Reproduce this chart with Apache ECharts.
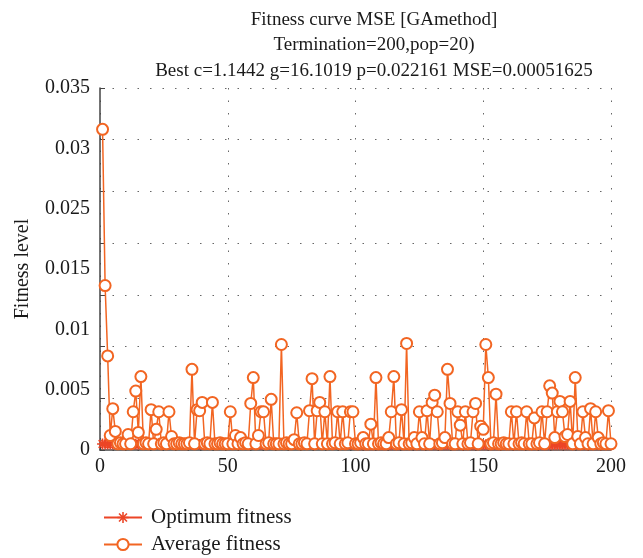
<!DOCTYPE html>
<html>
<head>
<meta charset="utf-8">
<script src="https://cdn.jsdelivr.net/npm/echarts@6/dist/echarts.min.js"></script>
<style>
html,body{margin:0;padding:0;background:#fff;}
#chart{width:643px;height:558px;}
</style>
</head>
<body>
<div id="chart"></div>
<script>
// ---- data ----
const titleLines = [
  'Fitness curve MSE [GAmethod]',
  'Termination=200,pop=20)',
  'Best c=1.1442 g=16.1019 p=0.022161 MSE=0.00051625'
];
const seriesNames = ['Optimum fitness', 'Average fitness'];
const yAxisName = 'Fitness level';
const yTickLabels = ['0', '0.005', '0.01', '0.015', '0.025', '0.03', '0.035'];
const xTicks = [0, 50, 100, 150, 200];

const avgFitness = [
  0.031, 0.0159, 0.0091, 0.0014, 0.0040, 0.0018, 0.0006, 0.0007, 0.0006, 0.0006,
  0.0015, 0.0006, 0.0037, 0.0057, 0.0017, 0.0071, 0.0006, 0.0007, 0.0006, 0.0039,
  0.0006, 0.0020, 0.0037, 0.0006, 0.0007, 0.0006, 0.0037, 0.0013, 0.0006, 0.0006,
  0.0007, 0.0006, 0.0006, 0.0006, 0.0007, 0.0078, 0.0006, 0.0039, 0.0038, 0.0046,
  0.0006, 0.0007, 0.0006, 0.0046, 0.0006, 0.0006, 0.0007, 0.0006, 0.0006, 0.0006,
  0.0037, 0.0006, 0.0014, 0.0006, 0.0012, 0.0006, 0.0007, 0.0006, 0.0045, 0.0070,
  0.0006, 0.0014, 0.0037, 0.0037, 0.0006, 0.0007, 0.0049, 0.0006, 0.0006, 0.0006,
  0.0102, 0.0006, 0.0007, 0.0006, 0.0006, 0.0010, 0.0036, 0.0006, 0.0006, 0.0007,
  0.0006, 0.0038, 0.0069, 0.0006, 0.0038, 0.0046, 0.0006, 0.0037, 0.0006, 0.0071,
  0.0006, 0.0007, 0.0037, 0.0006, 0.0037, 0.0006, 0.0007, 0.0037, 0.0037, 0.0006,
  0.0006, 0.0007, 0.0012, 0.0006, 0.0006, 0.0025, 0.0006, 0.0070, 0.0006, 0.0007,
  0.0006, 0.0006, 0.0012, 0.0037, 0.0071, 0.0006, 0.0007, 0.0039, 0.0006, 0.0103,
  0.0006, 0.0007, 0.0012, 0.0006, 0.0037, 0.0012, 0.0006, 0.0038, 0.0006, 0.0046,
  0.0053, 0.0037, 0.0006, 0.0007, 0.0012, 0.0078, 0.0045, 0.0006, 0.0006, 0.0037,
  0.0024, 0.0006, 0.0037, 0.0006, 0.0007, 0.0037, 0.0045, 0.0006, 0.0023, 0.0020,
  0.0102, 0.0070, 0.0006, 0.0007, 0.0054, 0.0006, 0.0006, 0.0007, 0.0006, 0.0006,
  0.0037, 0.0006, 0.0037, 0.0006, 0.0007, 0.0006, 0.0037, 0.0006, 0.0006, 0.0031,
  0.0006, 0.0007, 0.0037, 0.0006, 0.0037, 0.0062, 0.0055, 0.0012, 0.0037, 0.0047,
  0.0037, 0.0013, 0.0015, 0.0047, 0.0006, 0.0070, 0.0013, 0.0006, 0.0037, 0.0012,
  0.0006, 0.0040, 0.0006, 0.0037, 0.0012, 0.0006, 0.0007, 0.0006, 0.0038, 0.0006
];

const optFitness = [
  0.00058, 0.00058, 0.00058, 0.00058, 0.00058, 0.00057, 0.00057, 0.00057, 0.00057, 0.00057,
  0.00055, 0.00055, 0.00055, 0.00055, 0.00055, 0.00055, 0.00055, 0.00055, 0.00055, 0.00055,
  0.00055, 0.00055, 0.00055, 0.00055, 0.00055, 0.00054, 0.00054, 0.00054, 0.00054, 0.00054,
  0.00054, 0.00054, 0.00054, 0.00054, 0.00054, 0.00054, 0.00054, 0.00054, 0.00054, 0.00054,
  0.00053, 0.00053, 0.00053, 0.00053, 0.00053, 0.00053, 0.00053, 0.00053, 0.00053, 0.00053,
  0.00053, 0.00053, 0.00053, 0.00053, 0.00053, 0.00053, 0.00053, 0.00053, 0.00053, 0.00053,
  0.00053, 0.00053, 0.00053, 0.00053, 0.00053, 0.00053, 0.00053, 0.00053, 0.00053, 0.00053,
  0.00052, 0.00052, 0.00052, 0.00052, 0.00052, 0.00052, 0.00052, 0.00052, 0.00052, 0.00052,
  0.00052, 0.00052, 0.00052, 0.00052, 0.00052, 0.00052, 0.00052, 0.00052, 0.00052, 0.00052,
  0.00052, 0.00052, 0.00052, 0.00052, 0.00052, 0.00052, 0.00052, 0.00052, 0.00052, 0.00052,
  0.000516, 0.000516, 0.000516, 0.000516, 0.000516, 0.000516, 0.000516, 0.000516, 0.000516, 0.000516,
  0.000516, 0.000516, 0.000516, 0.000516, 0.000516, 0.000516, 0.000516, 0.000516, 0.000516, 0.000516,
  0.000516, 0.000516, 0.000516, 0.000516, 0.000516, 0.000516, 0.000516, 0.000516, 0.000516, 0.000516,
  0.000516, 0.000516, 0.000516, 0.000516, 0.000516, 0.000516, 0.000516, 0.000516, 0.000516, 0.000516,
  0.000516, 0.000516, 0.000516, 0.000516, 0.000516, 0.000516, 0.000516, 0.000516, 0.000516, 0.000516,
  0.000516, 0.000516, 0.000516, 0.000516, 0.000516, 0.000516, 0.000516, 0.000516, 0.000516, 0.000516,
  0.000516, 0.000516, 0.000516, 0.000516, 0.000516, 0.000516, 0.000516, 0.000516, 0.000516, 0.000516,
  0.000516, 0.000516, 0.000516, 0.000516, 0.000516, 0.000516, 0.000516, 0.000516, 0.000516, 0.000516,
  0.000516, 0.000516, 0.000516, 0.000516, 0.000516, 0.000516, 0.000516, 0.000516, 0.000516, 0.000516,
  0.000516, 0.000516, 0.000516, 0.000516, 0.000516, 0.000516, 0.000516, 0.000516, 0.000516, 0.000516
];

// ---- chart ----
const FONT = '"Liberation Serif", "DejaVu Serif", serif';
const TXT = '#1a1a1a';
const OPT_COLOR = '#EC4526';
const AVG_COLOR = '#F26522';
const asterisk = 'path://M-1.4,-10L1.4,-10L1.4,10L-1.4,10Z M-10,-1.4L10,-1.4L10,1.4L-10,1.4Z M-6.1,-8.1L8.1,6.1L6.1,8.1L-8.1,-6.1Z M6.1,-8.1L8.1,-6.1L-6.1,8.1L-8.1,6.1Z';

const gens = avgFitness.map((_, i) => i + 1);
const optData = gens.map((g, i) => [g, optFitness[i]]);
const avgData = gens.map((g, i) => [g, avgFitness[i]]);

const gridLine = { show: true, lineStyle: { color: '#666', type: [1.5, 11], width: 1 } };

const chart = echarts.init(document.getElementById('chart'), null, { renderer: 'canvas' });
chart.setOption({
  animation: false,
  backgroundColor: '#fff',
  title: {
    text: titleLines.join('\n'),
    left: 369,
    top: 2,
    textAlign: 'center',
    textStyle: { fontFamily: FONT, fontSize: 19, fontWeight: 'normal', color: TXT, lineHeight: 25.5 }
  },
  grid: { left: 100, right: 32, top: 88, bottom: 108, containLabel: false },
  legend: {
    orient: 'vertical',
    left: 98,
    top: 502,
    height: 56,
    itemGap: 6,
    itemWidth: 38,
    itemHeight: 14,
    data: seriesNames,
    textStyle: { fontFamily: FONT, fontSize: 21, color: TXT, padding: [0, 0, 0, 4] }
  },
  xAxis: {
    type: 'value',
    min: xTicks[0],
    max: xTicks[xTicks.length - 1],
    interval: 50,
    axisLine: { show: true, onZero: false, lineStyle: { color: '#444', width: 1.5 } },
    axisTick: { show: true, inside: true, length: 5, lineStyle: { color: '#444' } },
    axisLabel: { fontFamily: FONT, fontSize: 20, color: TXT, margin: 7 },
    splitLine: gridLine
  },
  yAxis: [
    {
      type: 'value',
      min: 0,
      max: 0.035,
      interval: 0.005,
      name: yAxisName,
      nameLocation: 'middle',
      nameGap: 67,
      nameTextStyle: { fontFamily: FONT, fontSize: 20, color: TXT },
      axisLine: { show: true, onZero: false, lineStyle: { color: '#444', width: 1.5 } },
      axisTick: { show: true, inside: true, length: 5, lineStyle: { color: '#444' } },
      axisLabel: { show: false },
      splitLine: gridLine
    },
    {
      type: 'value',
      position: 'left',
      offset: 0,
      min: 0,
      max: yTickLabels.length - 1,
      interval: 1,
      axisLine: { show: false },
      axisTick: { show: false },
      splitLine: { show: false },
      axisLabel: {
        fontFamily: FONT, fontSize: 20, color: TXT, margin: 10,
        formatter: v => yTickLabels[Math.round(v)]
      }
    }
  ],
  series: [
    {
      name: seriesNames[0],
      type: 'line',
      yAxisIndex: 0,
      data: optData,
      symbol: asterisk,
      symbolSize: 11,
      itemStyle: { color: OPT_COLOR },
      lineStyle: { color: OPT_COLOR, width: 1.5 },
      z: 2
    },
    {
      name: seriesNames[1],
      type: 'line',
      yAxisIndex: 0,
      data: avgData,
      symbol: 'emptyCircle',
      symbolSize: 11,
      showAllSymbol: true,
      itemStyle: { color: AVG_COLOR, borderWidth: 2.6, borderColor: AVG_COLOR },
      lineStyle: { color: AVG_COLOR, width: 1.5 },
      z: 3
    }
  ]
});
</script>
</body>
</html>
